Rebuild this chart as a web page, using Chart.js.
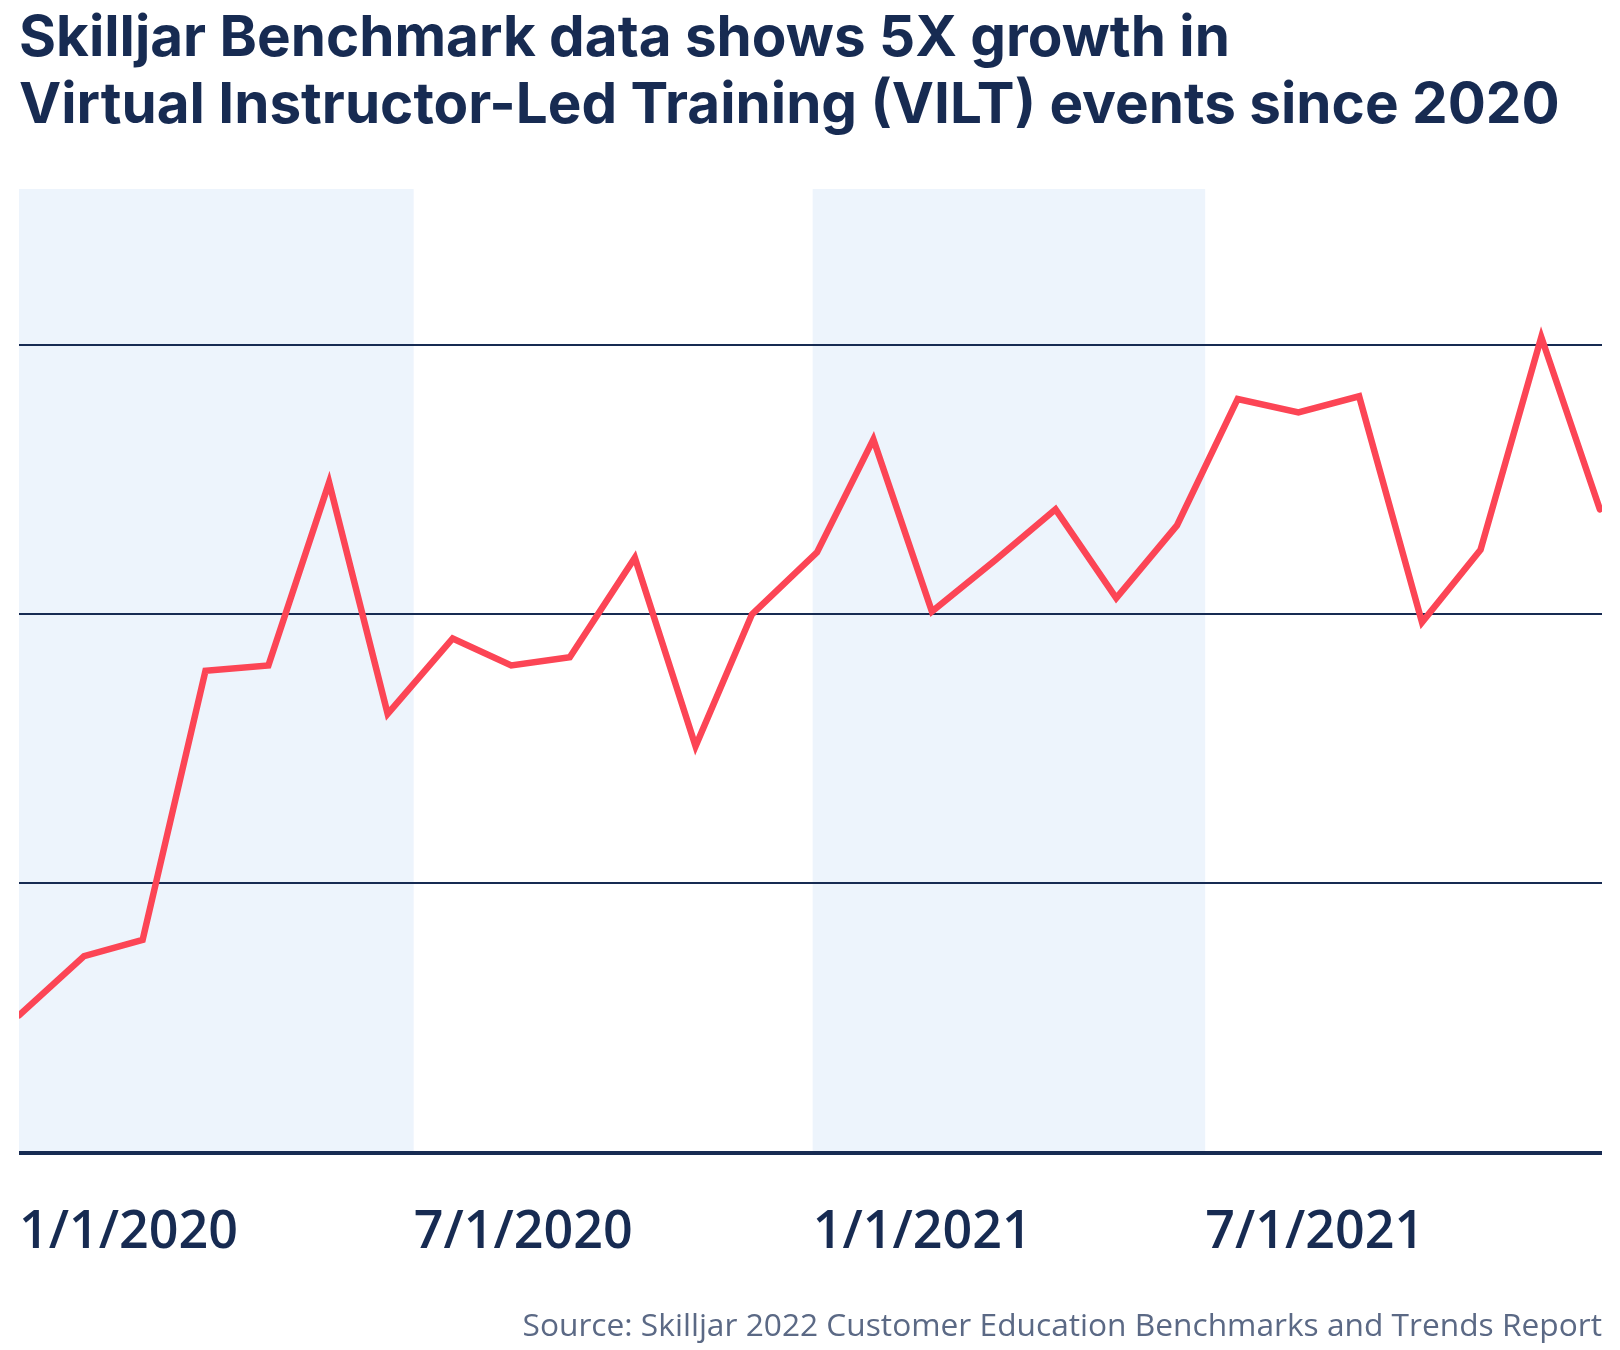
<!DOCTYPE html>
<html>
<head>
<meta charset="utf-8">
<script src="https://cdn.jsdelivr.net/npm/chart.js@4.4.1/dist/chart.umd.min.js"></script>
<style>
  html, body { margin: 0; padding: 0; background: #ffffff; }
  #wrap { width: 1620px; height: 1350px; position: relative; }
</style>
</head>
<body>
<div id="wrap"><canvas id="c"></canvas></div>
<script>
// ---- data ----
const titleLines = [
  "Skilljar Benchmark data shows 5X growth in",
  "Virtual Instructor-Led Training (VILT) events since 2020"
];
const sourceText = "Source: Skilljar 2022 Customer Education Benchmarks and Trends Report";

const pointDates = [
  "2020-01-01", "2020-01-31", "2020-02-27", "2020-03-27", "2020-04-25", "2020-05-23",
  "2020-06-19", "2020-07-19", "2020-08-15", "2020-09-11", "2020-10-11", "2020-11-08",
  "2020-12-04", "2021-01-03", "2021-01-29", "2021-02-25", "2021-03-26", "2021-04-23",
  "2021-05-21", "2021-06-18", "2021-07-16", "2021-08-13", "2021-09-10", "2021-10-09",
  "2021-11-05", "2021-12-03", "2021-12-30"
];
const viltEvents = [
  0.51, 0.73, 0.79, 1.79, 1.81, 2.49,
  1.63, 1.91, 1.81, 1.84, 2.21, 1.51,
  2.00, 2.23, 2.65, 2.01, 2.20, 2.39,
  2.06, 2.33, 2.80, 2.75, 2.81, 1.97,
  2.24, 3.03, 2.39
];
const axisStart = "2020-01-01";
const axisEnd = "2021-12-31";
const tickDates = ["2020-01-01", "2020-07-01", "2021-01-01", "2021-07-01"];
const tickLabels = ["1/1/2020", "7/1/2020", "1/1/2021", "7/1/2021"];
const shadedRanges = [["2020-01-01", "2020-07-01"], ["2021-01-01", "2021-07-01"]];
const yGridValues = [0, 1, 2, 3];
const yMax = 3.58;

// ---- helpers ----
const DAY = 86400000;
const t0 = Date.parse(axisStart + "T00:00:00Z");
const dayOf = s => (Date.parse(s + "T00:00:00Z") - t0) / DAY;

const NAVY = "#172b52";
const RED = "#fc4555";
const BAND = "#edf4fc";

const bandPlugin = {
  id: "bands",
  beforeDraw(chart) {
    const { ctx, chartArea, scales } = chart;
    ctx.save();
    ctx.fillStyle = BAND;
    shadedRanges.forEach(([a, b]) => {
      const x1 = scales.x.getPixelForValue(dayOf(a));
      const x2 = scales.x.getPixelForValue(dayOf(b));
      ctx.fillRect(x1, chartArea.top, x2 - x1, chartArea.bottom - chartArea.top);
    });
    ctx.restore();
  }
};

const data = {
  datasets: [{
    label: "VILT events",
    data: pointDates.map((d, i) => ({ x: dayOf(d), y: viltEvents[i] })),
    borderColor: RED,
    borderWidth: 6.5,
    borderJoinStyle: "miter",
    borderCapStyle: "round",
    pointRadius: 0,
    tension: 0,
    fill: false
  }]
};

new Chart(document.getElementById("c"), {
  type: "line",
  data,
  plugins: [bandPlugin],
  options: {
    responsive: true,
    maintainAspectRatio: false,
    animation: false,
    events: [],
    layout: { padding: { left: 19, right: 18, top: 5, bottom: 4 } },
    plugins: {
      legend: { display: false },
      tooltip: { enabled: false },
      title: {
        display: true,
        text: titleLines,
        align: "start",
        color: NAVY,
        font: { family: "Inter", weight: "700", size: 56.6, lineHeight: 1.184 },
        padding: { top: 0, bottom: 50 }
      },
      subtitle: {
        display: true,
        position: "bottom",
        align: "end",
        text: sourceText,
        color: "#5b6985",
        font: { family: "Open Sans", weight: "400", size: 31.7, lineHeight: 1.2 },
        padding: { top: 41, bottom: 0 }
      }
    },
    scales: {
      x: {
        type: "linear",
        min: dayOf(axisStart),
        max: dayOf(axisEnd),
        afterBuildTicks: axis => { axis.ticks = tickDates.map(d => ({ value: dayOf(d) })); },
        border: { display: false },
        grid: { display: true, drawOnChartArea: false, drawTicks: true, tickLength: 46, tickColor: "rgba(0,0,0,0)" },
        ticks: {
          autoSkip: false,
          maxRotation: 0,
          align: "start",
          padding: 3,
          color: NAVY,
          font: { family: "Open Sans", weight: "600", size: 52, lineHeight: 1.2 },
          callback: (v, i) => tickLabels[i]
        }
      },
      y: {
        type: "linear",
        min: 0,
        max: yMax,
        afterBuildTicks: axis => { axis.ticks = yGridValues.map(v => ({ value: v })); },
        border: { display: false },
        grid: {
          color: NAVY,
          drawTicks: false,
          lineWidth: ctx => (ctx.tick && ctx.tick.value === 0 ? 4 : 2)
        },
        ticks: { display: false }
      }
    }
  }
});
</script>
</body>
</html>
